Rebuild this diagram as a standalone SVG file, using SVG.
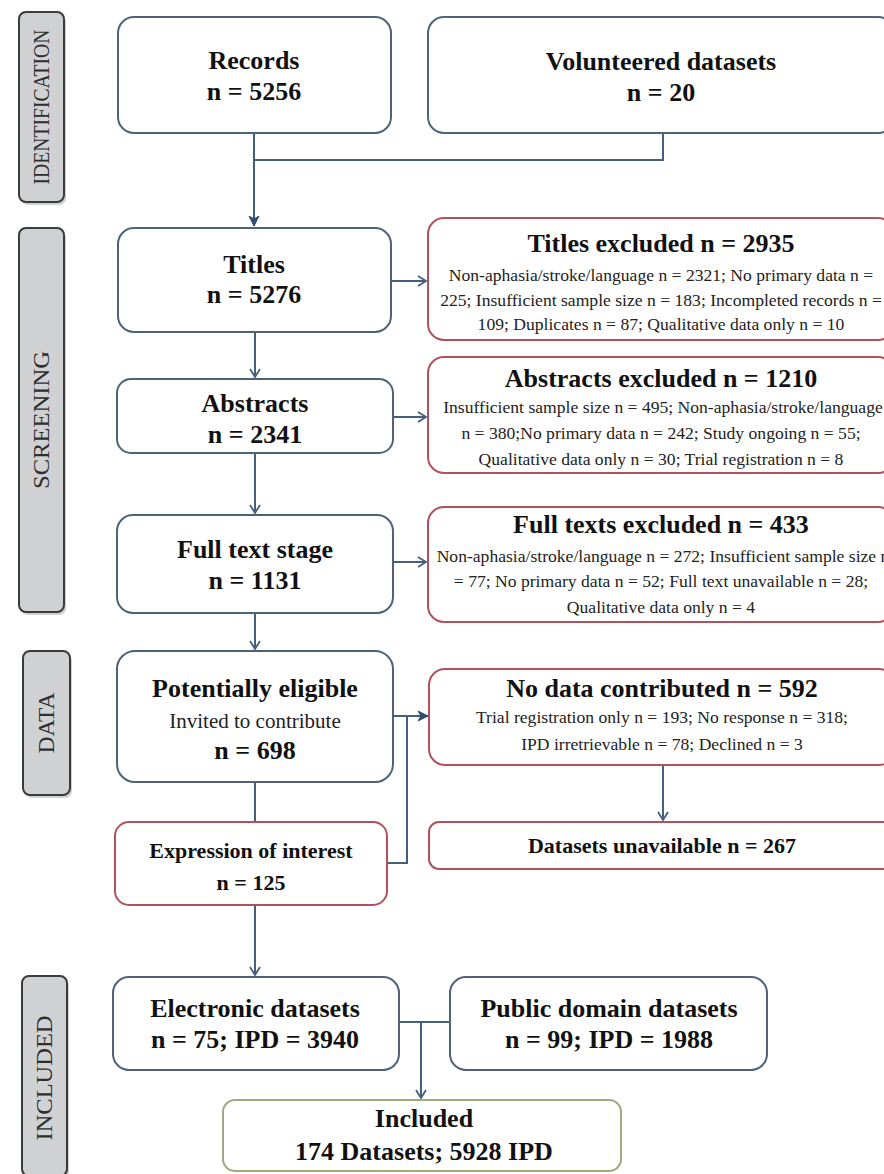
<svg xmlns="http://www.w3.org/2000/svg" width="884" height="1174" viewBox="0 0 884 1174">
<defs>
<style>
.t{font-family:"Liberation Serif","Times New Roman",serif;fill:#111;text-anchor:middle}
.b26{font-size:26px;font-weight:bold}
.b22{font-size:22px;font-weight:bold}
.r17{font-size:17.6px;fill:#222}
.r21{font-size:21px;fill:#222}
.side{font-family:"Liberation Serif","Times New Roman",serif;font-size:23px;fill:#2e2e2e;text-anchor:middle}
.box{fill:#fff;stroke:#4f6278;stroke-width:2}
.red{fill:#fff;stroke:#b0525c;stroke-width:2}
.olive{fill:#fff;stroke:#a2a87e;stroke-width:2}
.lab{fill:#d0d1d3;stroke:#3b3b3b;stroke-width:2}
.shd{fill:#9a9a9a;opacity:0.45}
.c{fill:none;stroke:#46607c;stroke-width:2}
</style>
<marker id="ao" markerUnits="userSpaceOnUse" markerWidth="14" markerHeight="14" refX="9" refY="6" orient="auto">
<path d="M1,1 L9,6 L1,11" fill="none" stroke="#46607c" stroke-width="1.8"/>
</marker>
<marker id="af" markerUnits="userSpaceOnUse" markerWidth="14" markerHeight="14" refX="10" refY="6" orient="auto">
<path d="M0,1 L10,6 L0,11 L3,6 Z" fill="#2f4d6e" stroke="#2f4d6e" stroke-width="1"/>
</marker>
</defs>
<rect width="884" height="1174" fill="#fff"/>

<g id="label-identification">
<rect class="shd" x="21" y="15" width="45" height="190" rx="7"/>
<rect class="lab" x="19" y="12" width="45" height="190" rx="7"/>
<text class="side" transform="translate(49,107) rotate(-90)" textLength="155" lengthAdjust="spacingAndGlyphs">IDENTIFICATION</text>
</g>
<g id="label-screening">
<rect class="shd" x="21" y="231" width="45" height="384" rx="7"/>
<rect class="lab" x="19" y="228" width="45" height="384" rx="7"/>
<text class="side" transform="translate(49,420) rotate(-90)" textLength="138" lengthAdjust="spacingAndGlyphs">SCREENING</text>
</g>
<g id="label-data">
<rect class="shd" x="25" y="654" width="47" height="144" rx="7"/>
<rect class="lab" x="23" y="651" width="47" height="144" rx="7"/>
<text class="side" transform="translate(54,723) rotate(-90)" textLength="61" lengthAdjust="spacingAndGlyphs">DATA</text>
</g>
<g id="label-included">
<rect class="shd" x="24" y="979" width="45" height="200" rx="7"/>
<rect class="lab" x="22" y="976" width="45" height="200" rx="7"/>
<text class="side" transform="translate(52,1078) rotate(-90)" textLength="125" lengthAdjust="spacingAndGlyphs">INCLUDED</text>
</g>

<g id="connectors">
<path class="c" d="M254,160 H663 V133"/>
<path class="c" d="M254,133 V226" marker-end="url(#af)"/>
<path class="c" d="M255,332 V377" marker-end="url(#ao)"/>
<path class="c" d="M255,453 V513" marker-end="url(#ao)"/>
<path class="c" d="M255,613 V649" marker-end="url(#ao)"/>
<path class="c" d="M391,281 H426" marker-end="url(#ao)"/>
<path class="c" d="M393,417 H426" marker-end="url(#ao)"/>
<path class="c" d="M393,562 H426" marker-end="url(#ao)"/>
<path class="c" d="M255,782 V822"/>
<path class="c" d="M255,905 V975" marker-end="url(#ao)"/>
<path class="c" d="M387,863 H407 V716"/>
<path class="c" d="M393,716 H428" marker-end="url(#af)"/>
<path class="c" d="M663,765 V820" marker-end="url(#ao)"/>
<path class="c" d="M399,1022 H450"/>
<path class="c" d="M421,1022 V1098" marker-end="url(#ao)"/>
</g>

<g id="records">
<rect class="box" x="118" y="17" width="273" height="116" rx="16"/>
<text class="t b26" x="254" y="69">Records</text>
<text class="t b26" x="254" y="100">n = 5256</text>
</g>
<g id="volunteered">
<rect class="box" x="428" y="17" width="466" height="116" rx="16"/>
<text class="t b26" x="661" y="70">Volunteered datasets</text>
<text class="t b26" x="661" y="101">n = 20</text>
</g>

<g id="titles">
<rect class="box" x="118" y="228" width="273" height="104" rx="16"/>
<text class="t b26" x="254" y="273">Titles</text>
<text class="t b26" x="254" y="303">n = 5276</text>
</g>
<g id="titles-excluded">
<rect class="red" x="428" y="218" width="466" height="122" rx="16"/>
<text class="t b26" x="661" y="252">Titles excluded n = 2935</text>
<text class="t r17" x="661" y="281">Non-aphasia/stroke/language n = 2321; No primary data n =</text>
<text class="t r17" x="661" y="306">225; Insufficient sample size n = 183; Incompleted records n =</text>
<text class="t r17" x="661" y="330">109; Duplicates n = 87; Qualitative data only n = 10</text>
</g>

<g id="abstracts">
<rect class="box" x="117" y="379" width="276" height="74" rx="14"/>
<text class="t b26" x="255" y="412">Abstracts</text>
<text class="t b26" x="255" y="443">n = 2341</text>
</g>
<g id="abstracts-excluded">
<rect class="red" x="428" y="357" width="466" height="116" rx="16"/>
<text class="t b26" x="661" y="387">Abstracts excluded n = 1210</text>
<text class="t r17" x="663" y="413">Insufficient sample size n = 495; Non-aphasia/stroke/language</text>
<text class="t r17" x="661" y="439">n = 380;No primary data n = 242; Study ongoing n = 55;</text>
<text class="t r17" x="661" y="465">Qualitative data only n = 30; Trial registration n = 8</text>
</g>

<g id="full-text">
<rect class="box" x="117" y="515" width="276" height="98" rx="16"/>
<text class="t b26" x="255" y="558">Full text stage</text>
<text class="t b26" x="255" y="589">n = 1131</text>
</g>
<g id="full-texts-excluded">
<rect class="red" x="428" y="507" width="466" height="115" rx="16"/>
<text class="t b26" x="661" y="533">Full texts excluded n = 433</text>
<text class="t r17" x="663" y="562">Non-aphasia/stroke/language n = 272; Insufficient sample size n</text>
<text class="t r17" x="661" y="587">= 77; No primary data n = 52; Full text unavailable n = 28;</text>
<text class="t r17" x="661" y="613">Qualitative data only n = 4</text>
</g>

<g id="potentially-eligible">
<rect class="box" x="117" y="651" width="276" height="131" rx="18"/>
<text class="t b26" x="255" y="697">Potentially eligible</text>
<text class="t r21" x="255" y="728">Invited to contribute</text>
<text class="t b26" x="255" y="759">n = 698</text>
</g>
<g id="no-data">
<rect class="red" x="429" y="669" width="466" height="96" rx="16"/>
<text class="t b26" x="662" y="697">No data contributed n = 592</text>
<text class="t r17" x="662" y="723">Trial registration only n = 193; No response n = 318;</text>
<text class="t r17" x="662" y="750">IPD irretrievable n = 78; Declined n = 3</text>
</g>

<g id="expression">
<rect class="red" x="115" y="822" width="272" height="83" rx="14"/>
<text class="t b22" x="251" y="858">Expression of interest</text>
<text class="t b22" x="251" y="890">n = 125</text>
</g>
<g id="unavailable">
<rect class="red" x="429" y="822" width="466" height="47" rx="10"/>
<text class="t b22" x="662" y="853">Datasets unavailable n = 267</text>
</g>

<g id="electronic">
<rect class="box" x="113" y="977" width="286" height="93" rx="16"/>
<text class="t b26" x="255" y="1017">Electronic datasets</text>
<text class="t b26" x="255" y="1048">n = 75; IPD = 3940</text>
</g>
<g id="public">
<rect class="box" x="450" y="977" width="317" height="93" rx="16"/>
<text class="t b26" x="609" y="1017">Public domain datasets</text>
<text class="t b26" x="609" y="1048">n = 99; IPD = 1988</text>
</g>
<g id="included">
<rect class="olive" x="223" y="1100" width="398" height="71" rx="12"/>
<text class="t b26" x="424" y="1127">Included</text>
<text class="t b26" x="424" y="1160">174 Datasets; 5928 IPD</text>
</g>
</svg>
